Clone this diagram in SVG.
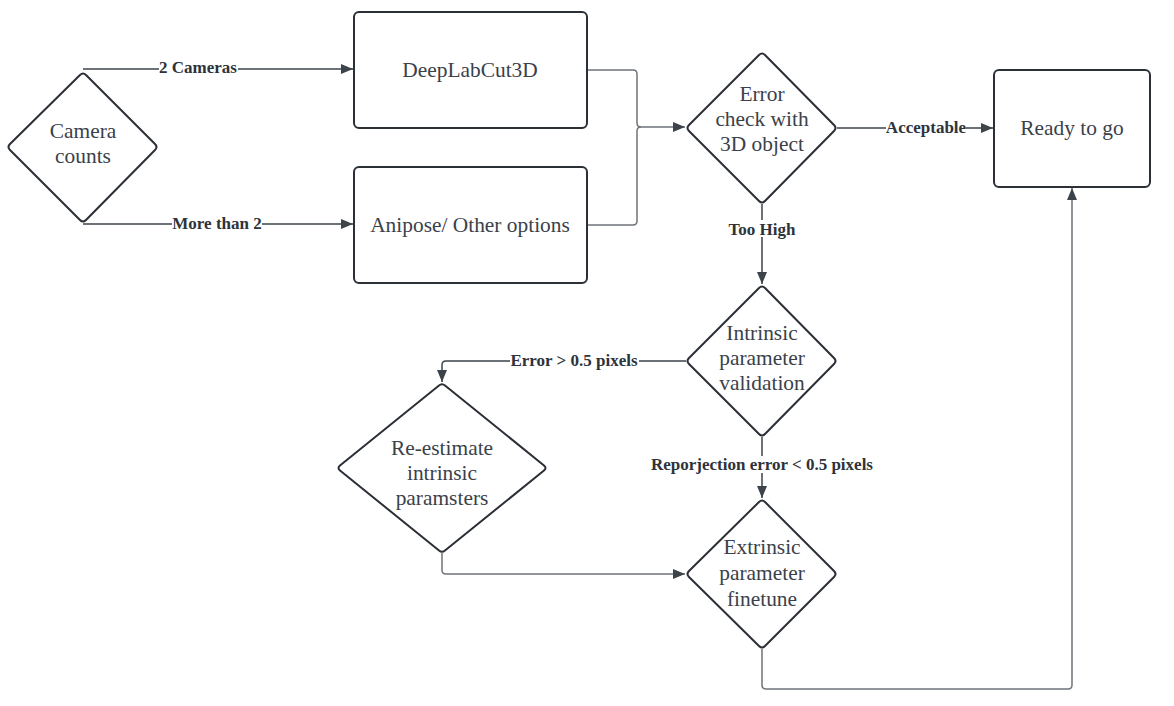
<svg xmlns="http://www.w3.org/2000/svg" width="1174" height="706" viewBox="0 0 1174 706">
  <style>
    .shape { fill: #ffffff; stroke: #2b2f36; stroke-width: 2; stroke-linejoin: round; }
    .node-text { font-family: "Liberation Serif", "Times New Roman", serif; font-size: 21.4px; fill: #3a414a; text-anchor: middle; }
    .edge { fill: none; stroke: #3d434b; stroke-width: 1.5; }
    .edge-light { fill: none; stroke: #6f747a; stroke-width: 1.5; }
    .edge-label { font-family: "Liberation Serif", "Times New Roman", serif; font-size: 17px; font-weight: bold; fill: #2e333a; text-anchor: middle; }
    .label-bg { fill: #ffffff; }
  </style>
  <defs>
    <marker id="arrow" viewBox="0 0 12 10" refX="12" refY="5" markerWidth="12" markerHeight="10" markerUnits="userSpaceOnUse" orient="auto">
      <path d="M0,0 L12,5 L0,10 Z" fill="#3d434b"/>
    </marker>
  </defs>

  <rect width="1174" height="706" fill="#ffffff"/>

  <!-- connectors -->
  <g id="connectors">
    <path class="edge" d="M83,69 H353" marker-end="url(#arrow)"/>
    <path class="edge" d="M83,224 H353" marker-end="url(#arrow)"/>
    <path class="edge-light" d="M587,70 H633 Q637,70 637,74 V123 Q637,127 641,127 H685" marker-end="url(#arrow)"/>
    <path class="edge-light" d="M587,225 H633 Q637,225 637,221 V131 Q637,127 641,127"/>
    <path class="edge" d="M837,128 H993" marker-end="url(#arrow)"/>
    <path class="edge" d="M762,204 V284" marker-end="url(#arrow)"/>
    <path class="edge" d="M686,361 H446 Q442,361 442,365 V382" marker-end="url(#arrow)"/>
    <path class="edge" d="M762,437 V498" marker-end="url(#arrow)"/>
    <path class="edge-light" d="M442,553 V570 Q442,574 446,574 H685" marker-end="url(#arrow)"/>
    <path class="edge-light" d="M762,649 V685 Q762,689 766,689 H1068 Q1072,689 1072,685 V188" marker-end="url(#arrow)"/>

    <!-- labels -->
    <rect class="label-bg" x="159" y="60" width="79" height="16"/>
    <text class="edge-label" x="198" y="73">2 Cameras</text>
    <rect class="label-bg" x="172" y="215" width="90" height="16"/>
    <text class="edge-label" x="217" y="229">More than 2</text>
    <rect class="label-bg" x="886" y="119" width="80" height="16"/>
    <text class="edge-label" x="926" y="133">Acceptable</text>
    <rect class="label-bg" x="728" y="220" width="68" height="17"/>
    <text class="edge-label" x="762" y="235">Too High</text>
    <rect class="label-bg" x="510" y="352" width="129" height="16"/>
    <text class="edge-label" x="574" y="366">Error &gt; 0.5 pixels</text>
    <rect class="label-bg" x="649" y="456" width="226" height="17"/>
    <text class="edge-label" x="762" y="470">Reporjection error &lt; 0.5 pixels</text>
  </g>

  <!-- nodes -->
  <g id="camera-counts">
    <path class="shape" d="M86,75 L155,144 Q158,147 155,150 L86,220 Q83,223 80,220 L10,150 Q7,147 10,144 L80,75 Q83,72 86,75 Z"/>
    <text class="node-text" x="83" y="138">Camera</text>
    <text class="node-text" x="83" y="163">counts</text>
  </g>

  <g id="deeplabcut3d">
    <rect class="shape" x="354" y="12" width="233" height="116" rx="5"/>
    <text class="node-text" x="470" y="77">DeepLabCut3D</text>
  </g>

  <g id="anipose">
    <rect class="shape" x="354" y="167" width="233" height="116" rx="5"/>
    <text class="node-text" x="470" y="232">Anipose/ Other options</text>
  </g>

  <g id="error-check">
    <path class="shape" d="M765,55 L834,125 Q837,128 834,131 L765,201 Q762,204 759,201 L689,131 Q686,128 689,125 L759,55 Q762,52 765,55 Z"/>
    <text class="node-text" x="762" y="101">Error</text>
    <text class="node-text" x="762" y="126">check with</text>
    <text class="node-text" x="762" y="151">3D object</text>
  </g>

  <g id="ready-to-go">
    <rect class="shape" x="994" y="70" width="156" height="117" rx="5"/>
    <text class="node-text" x="1072" y="135">Ready to go</text>
  </g>

  <g id="intrinsic-validation">
    <path class="shape" d="M765,288 L834,358 Q837,361 834,364 L765,434 Q762,437 759,434 L689,364 Q686,361 689,358 L759,288 Q762,285 765,288 Z"/>
    <text class="node-text" x="762" y="340">Intrinsic</text>
    <text class="node-text" x="762" y="365">parameter</text>
    <text class="node-text" x="762" y="390">validation</text>
  </g>

  <g id="re-estimate">
    <path class="shape" d="M445,385.5 L544,465.5 Q547,468 544,470.5 L445,550.5 Q442,553 439,550.5 L340,470.5 Q337,468 340,465.5 L439,385.5 Q442,383 445,385.5 Z"/>
    <text class="node-text" x="442" y="455">Re-estimate</text>
    <text class="node-text" x="442" y="480">intrinsic</text>
    <text class="node-text" x="442" y="505">paramsters</text>
  </g>

  <g id="extrinsic-finetune">
    <path class="shape" d="M765,502 L834,571 Q837,574 834,577 L765,646 Q762,649 759,646 L689,577 Q686,574 689,571 L759,502 Q762,499 765,502 Z"/>
    <text class="node-text" x="762" y="554">Extrinsic</text>
    <text class="node-text" x="762" y="580">parameter</text>
    <text class="node-text" x="762" y="606">finetune</text>
  </g>
</svg>
